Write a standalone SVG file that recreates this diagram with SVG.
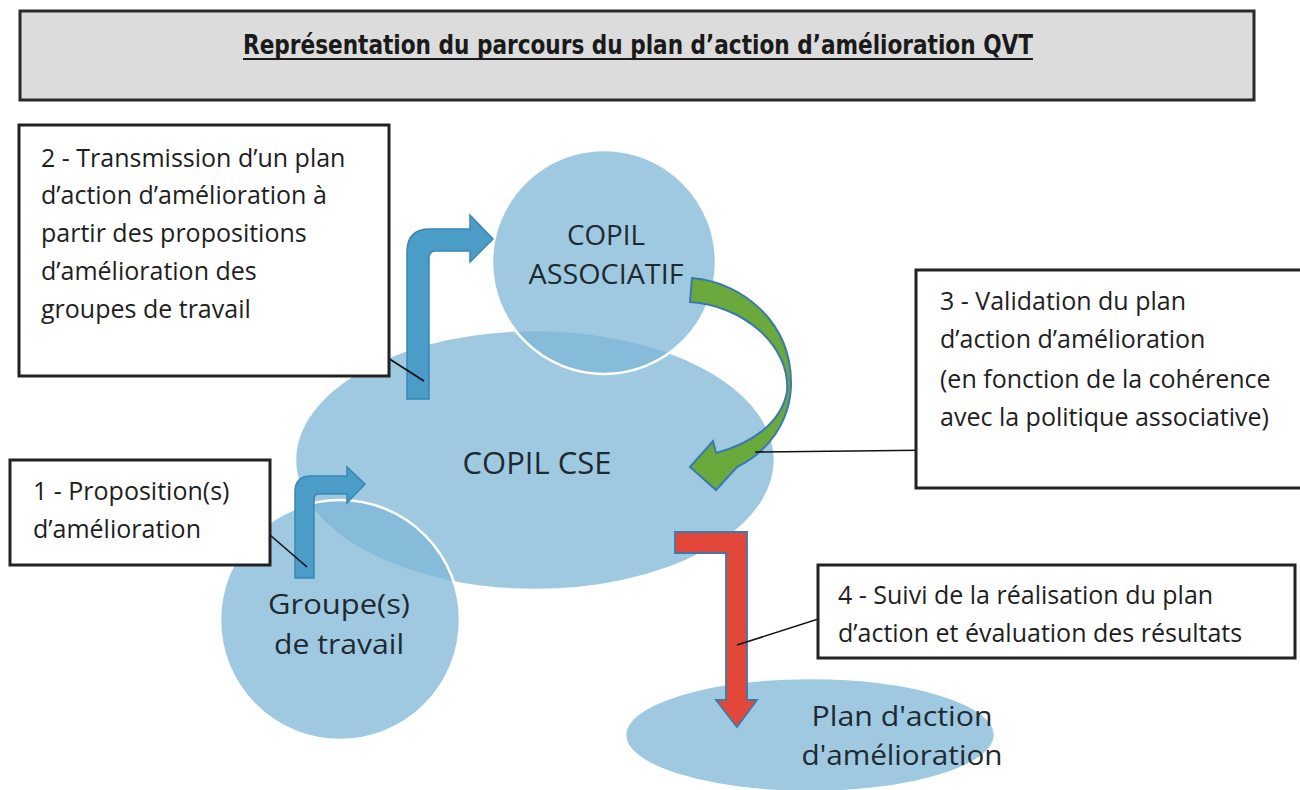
<svg xmlns="http://www.w3.org/2000/svg" width="1300" height="790" viewBox="0 0 1300 790">
<style>
.bg{fill:#ffffff}
.bub{fill:#7db6d6;fill-opacity:0.74;stroke:#ffffff;stroke-width:2.5}
.box{fill:#ffffff;stroke:#222222;stroke-width:3}
.t{font-family:"Open Sans","Noto Sans","Liberation Sans",sans-serif;font-size:25px;fill:#1e1e1e}
.n{font-family:"Open Sans","Noto Sans","Liberation Sans",sans-serif;font-size:31px;fill:#1e2a30;text-anchor:middle}
.s{font-size:28px}
.lead{stroke:#111111;stroke-width:1.6;fill:none}
.blue{fill:#4b9cc6;stroke:#3a86b4;stroke-width:1.5}
</style>
<rect class="bg" x="0" y="0" width="1300" height="790"/>
<g id="title">
<rect x="20" y="11" width="1234" height="89" fill="#dcdcdc" stroke="#2a2a2a" stroke-width="3"/>
<text x="638" y="54" text-anchor="middle" font-family="'Liberation Sans Narrow','DejaVu Sans Condensed','Liberation Sans',sans-serif" font-weight="bold" font-size="27" fill="#1a1a1a" textLength="790" lengthAdjust="spacingAndGlyphs">Représentation du parcours du plan d’action d’amélioration QVT</text>
<line x1="243" y1="59" x2="1033" y2="59" stroke="#1a1a1a" stroke-width="2"/>
</g>
<g id="node-copil-cse">
<ellipse class="bub" cx="535" cy="460" rx="240" ry="130"/>
<text class="n" x="537" y="474">COPIL CSE</text>
</g>
<g id="node-copil-associatif">
<circle class="bub" cx="604" cy="262" r="112"/>
<text class="n s" x="606" y="245" textLength="78" lengthAdjust="spacingAndGlyphs">COPIL</text>
<text class="n s" x="606" y="284" textLength="155" lengthAdjust="spacingAndGlyphs">ASSOCIATIF</text>
</g>
<g id="node-groupes">
<circle class="bub" cx="340" cy="620" r="120"/>
<text class="n s" x="339" y="614" textLength="142" lengthAdjust="spacingAndGlyphs">Groupe(s)</text>
<text class="n s" x="339" y="654" textLength="130" lengthAdjust="spacingAndGlyphs">de travail</text>
</g>
<g id="node-plan">
<ellipse class="bub" cx="810" cy="735" rx="185" ry="57"/>
<text class="n s" x="902" y="726" textLength="181" lengthAdjust="spacingAndGlyphs">Plan d'action</text>
<text class="n s" x="902" y="765" textLength="201" lengthAdjust="spacingAndGlyphs">d'amélioration</text>
</g>
<g id="connectors">
<path class="blue" d="M407,399 L407,252 Q407,229 430,229 L470,229 L470,215 L493,239 L470,262 L470,251 L436,251 Q429,251 429,258 L429,399 Z"/>
<path class="blue" d="M295,578 L295,492 Q295,476 311,476 L347,476 L347,467 L365,484 L347,503 L347,494 L319,494 Q314,494 314,499 L314,578 Z"/>
<path d="M692,278 C742,282 792,322 791,385 C790,422 768,452 737,467 L716,490 L690,467 L713,441 L716,453 C750,444 781,424 787,392 C791,345 742,305 690,302 Z" fill="#6aa93c" stroke="#3b78b2" stroke-width="2"/>
<path d="M675,532 L747,532 L747,700 L757,700 L737,727 L716,700 L726,700 L726,553 L675,553 Z" fill="#e3473a" stroke="#3f79a8" stroke-width="1.8"/>
<line class="lead" x1="366" y1="344" x2="424" y2="381"/>
<line class="lead" x1="270" y1="535" x2="307" y2="567"/>
<line class="lead" x1="755" y1="452" x2="942" y2="450"/>
<line class="lead" x1="737" y1="645" x2="862" y2="605"/>
</g>
<g id="label-2">
<rect class="box" x="19" y="125" width="370" height="251"/>
<text class="t" x="41" y="167">2 - Transmission d’un plan</text>
<text class="t" x="41" y="204">d’action d’amélioration à</text>
<text class="t" x="41" y="242">partir des propositions</text>
<text class="t" x="41" y="280">d’amélioration des</text>
<text class="t" x="41" y="318">groupes de travail</text>
</g>
<g id="label-1">
<rect class="box" x="10" y="460" width="260" height="105"/>
<text class="t" x="33" y="500">1 - Proposition(s)</text>
<text class="t" x="33" y="538">d’amélioration</text>
</g>
<g id="label-3">
<rect class="box" x="916" y="270" width="400" height="218"/>
<text class="t" x="940" y="310">3 - Validation du plan</text>
<text class="t" x="940" y="348">d’action d’amélioration</text>
<text class="t" x="940" y="388">(en fonction de la cohérence</text>
<text class="t" x="940" y="426">avec la politique associative)</text>
</g>
<g id="label-4">
<rect class="box" x="818" y="565" width="477" height="93"/>
<text class="t" x="838" y="604">4 - Suivi de la réalisation du plan</text>
<text class="t" x="838" y="642">d’action et évaluation des résultats</text>
</g>
</svg>
